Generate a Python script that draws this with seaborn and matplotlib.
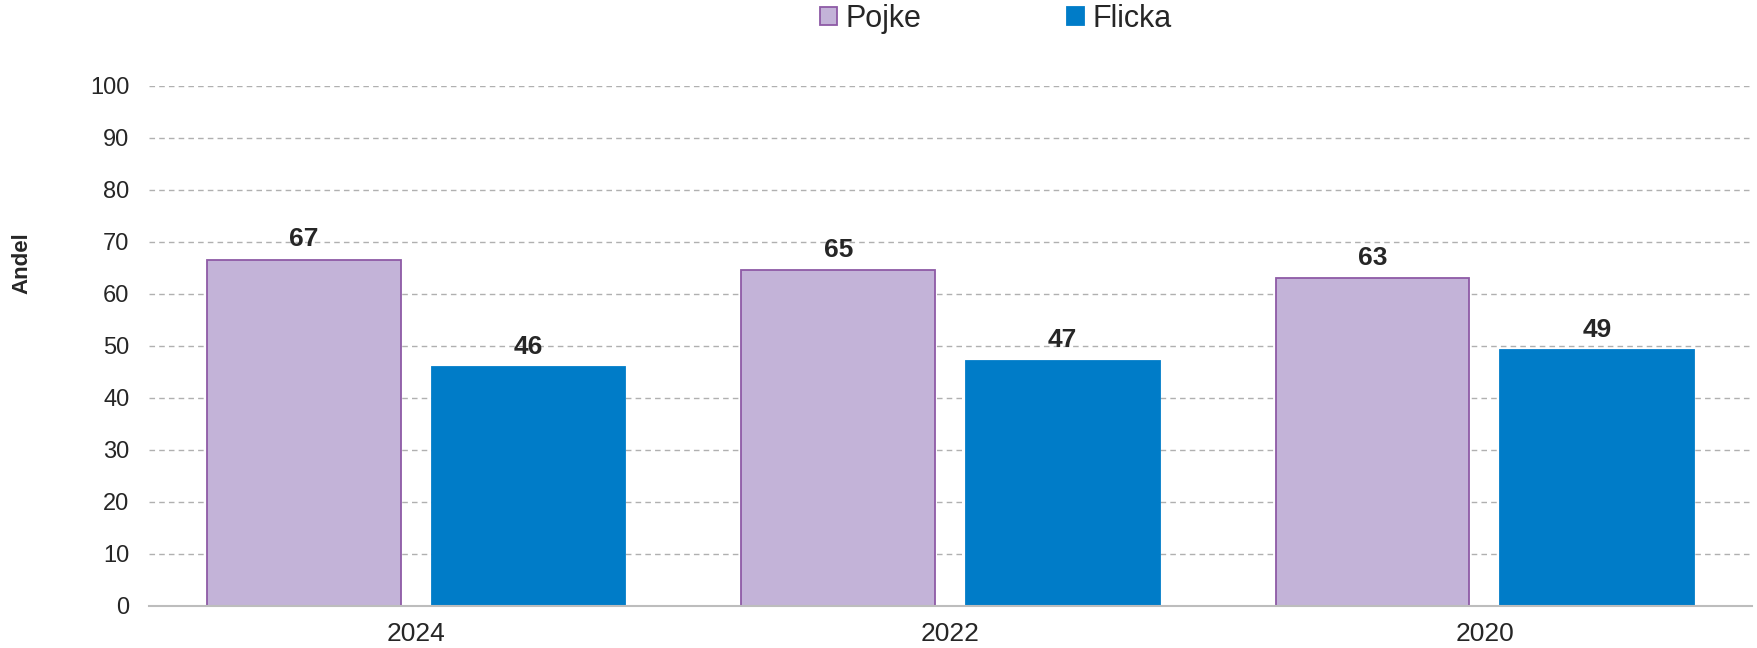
import matplotlib
matplotlib.use("Agg")
import matplotlib.pyplot as plt
import seaborn as sns
import pandas as pd

years = ["2024", "2022", "2020"]
series = ["Pojke", "Flicka"]
pojke = [66.6, 64.6, 63.0]
flicka = [45.9, 47.1, 49.2]
yticks = [0, 10, 20, 30, 40, 50, 60, 70, 80, 90, 100]

colors = {"Pojke": "#c3b3d8", "Flicka": "#007cc8"}
edges = {"Pojke": "#8e5aa6", "Flicka": "#007cc8"}

df = pd.DataFrame({
    "year": years * 2,
    "group": ["Pojke"] * 3 + ["Flicka"] * 3,
    "value": pojke + flicka,
})

sns.set_theme(style="white")
plt.rcParams['font.family'] = ['Liberation Sans', 'DejaVu Sans']
text_color = "#262626"

fig = plt.figure(figsize=(17.58, 6.48), dpi=100)
ax = fig.add_axes([149/1758, 1 - 605.5/648, (1752 - 149)/1758, (605.5 - 86)/648])

sns.barplot(data=df, x="year", y="value", hue="group", order=years,
            hue_order=series, palette=colors, width=0.84, gap=0.137,
            ax=ax, legend=False, saturation=1)

for cont, name in zip(ax.containers, series):
    for p in cont.patches:
        p.set_edgecolor(edges[name])
        p.set_linewidth(1.3)
    ax.bar_label(cont, labels=[f"{v:.0f}" for v in cont.datavalues],
                 padding=6, fontsize=19, fontweight="bold", color=text_color)

ax.set_ylim(0, 100)
ax.set_xlim(-0.5, 2.5)
ax.set_yticks(yticks)
ax.yaxis.grid(True, linestyle=(0, (4, 3)), color="#b0b0b0", linewidth=1)
ax.set_axisbelow(True)
for s in ["top", "right", "left"]:
    ax.spines[s].set_visible(False)
ax.spines["bottom"].set_color("#bdbdbd")
ax.spines["bottom"].set_linewidth(1.5)
ax.tick_params(axis="y", length=0, pad=14, labelsize=17, labelcolor=text_color)
ax.tick_params(axis="x", length=0, pad=12, labelsize=19, labelcolor=text_color)
ax.set_xlabel("")
ax.set_ylabel("")
fig.text(22/1758, 1 - 263/648, "Andel", rotation=90, fontsize=16, fontweight="bold",
         color=text_color, ha="center", va="center")

handles = [plt.Rectangle((0, 0), 1, 1, facecolor=colors[s], edgecolor=edges[s], linewidth=1.3)
           for s in series]
fig.legend(handles, series, loc="center", bbox_to_anchor=(996/1758, 1 - 19/648), ncol=2,
           frameon=False, fontsize=22, handlelength=0.55, handleheight=0.55,
           handletextpad=0.3, columnspacing=4.75, labelcolor=text_color)

fig.savefig("out.png", dpi=100)
